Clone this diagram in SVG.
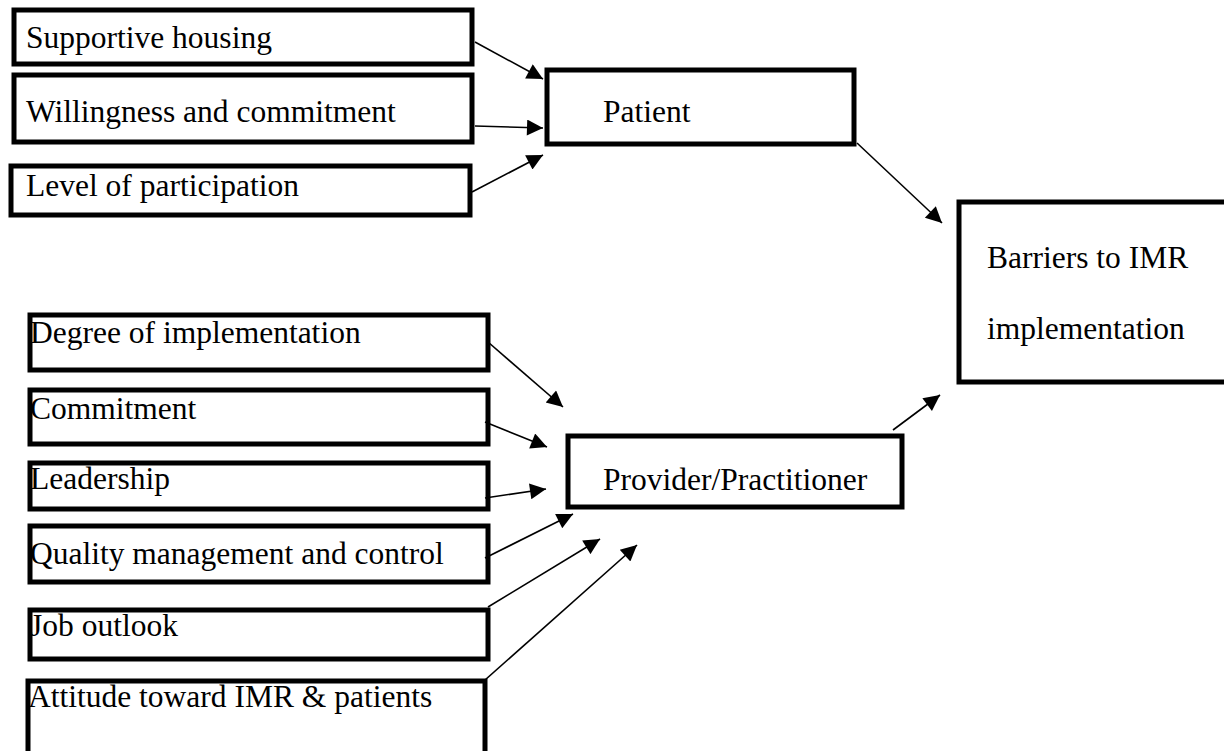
<svg xmlns="http://www.w3.org/2000/svg" width="1224" height="751" viewBox="0 0 1224 751">
<style>
.box{fill:none;stroke:#000;stroke-width:5}
text{font-family:"Liberation Serif","Times New Roman",serif;font-size:31.5px;fill:#000}
.c{stroke:#000;stroke-width:1.6;fill:none;marker-end:url(#ah)}
</style>
<defs>
<marker id="ah" viewBox="0 0 10 10" refX="10" refY="5" markerWidth="18" markerHeight="16" markerUnits="userSpaceOnUse" orient="auto">
<path d="M0,0 L10,5 L0,10 z" fill="#000"/>
</marker>
</defs>
<rect width="1224" height="751" fill="#fff"/>
<g id="connectors">
<line class="c" x1="475" y1="42" x2="543" y2="79"/>
<line class="c" x1="475" y1="126" x2="543" y2="128"/>
<line class="c" x1="472" y1="192" x2="543" y2="155"/>
<line class="c" x1="857" y1="143" x2="942" y2="223"/>
<line class="c" x1="893" y1="430" x2="940" y2="395"/>
<line class="c" x1="488" y1="342" x2="563" y2="407"/>
<line class="c" x1="485" y1="422" x2="547" y2="447"/>
<line class="c" x1="485" y1="498" x2="546" y2="489"/>
<line class="c" x1="485" y1="558" x2="573" y2="514"/>
<line class="c" x1="488" y1="607" x2="600" y2="539"/>
<line class="c" x1="485" y1="680" x2="637" y2="545"/>
</g>
<g id="n-supportive"><text x="26" y="48">Supportive housing</text><rect class="box" x="14" y="10" width="458" height="54"/></g>
<g id="n-willingness"><text x="26" y="122">Willingness and commitment</text><rect class="box" x="14" y="75" width="458" height="67"/></g>
<g id="n-level"><text x="26" y="196">Level of participation</text><rect class="box" x="11" y="166" width="459" height="49"/></g>
<g id="n-patient"><text x="603" y="122">Patient</text><rect class="box" x="547" y="70" width="307" height="74"/></g>
<g id="n-barriers"><text x="987" y="268">Barriers to IMR</text><text x="987" y="339">implementation</text><rect class="box" x="959" y="202" width="270" height="180"/></g>
<g id="n-degree"><text x="30" y="343">Degree of implementation</text><rect class="box" x="30" y="315" width="458" height="55"/></g>
<g id="n-commitment"><text x="30" y="419">Commitment</text><rect class="box" x="30" y="390" width="458" height="54"/></g>
<g id="n-leadership"><text x="30" y="489">Leadership</text><rect class="box" x="30" y="463" width="458" height="46"/></g>
<g id="n-quality"><text x="30" y="564">Quality management and control</text><rect class="box" x="30" y="526" width="458" height="56"/></g>
<g id="n-job"><text x="30" y="636">Job outlook</text><rect class="box" x="30" y="610" width="458" height="49"/></g>
<g id="n-attitude"><text x="28" y="707">Attitude toward IMR &amp; patients</text><rect class="box" x="28" y="681" width="457" height="75"/></g>
<g id="n-provider"><text x="603" y="490">Provider/Practitioner</text><rect class="box" x="568" y="436" width="334" height="71"/></g>
</svg>
